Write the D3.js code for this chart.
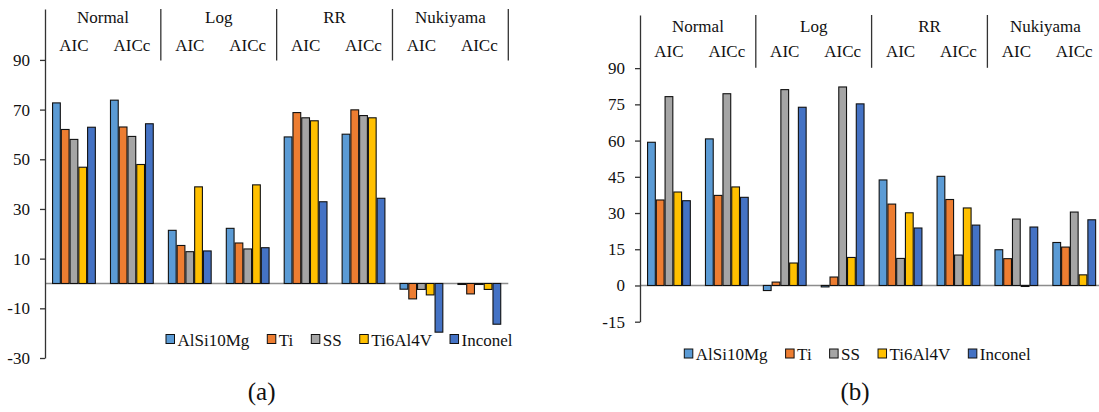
<!DOCTYPE html>
<html>
<head>
<meta charset="utf-8">
<script src="https://cdn.jsdelivr.net/npm/d3@7"></script>
<style>
    body { margin: 0; background: #fff; }
</style>
</head>
<body>
<svg id="chart" width="1099" height="412" font-family="Liberation Serif"></svg>
<script>
// categories
const materials = ["AlSi10Mg", "Ti", "SS", "Ti6Al4V", "Inconel"];
const models = ["Normal", "Log", "RR", "Nukiyama"];
const criteria = ["AIC", "AICc"];

// panel (a) values, one entry per model/criterion pair
const aAlSi10Mg = [72.7, 73.8, 21.4, 22.2, 59.0, 60.1, -2.3, -0.3];
const aTi       = [62.0, 63.0, 15.3, 16.3, 68.8, 69.9, -6.2, -4.2];
const aSS       = [58.0, 59.2, 12.8, 13.9, 66.7, 67.6, -2.4, -0.3];
const aTi6Al4V  = [46.8, 47.9, 38.9, 39.7, 65.5, 66.7, -4.6, -2.4];
const aInconel  = [62.9, 64.3, 13.1, 14.4, 32.9, 34.3, -19.6, -16.4];
const aTicks = [-30, -10, 10, 30, 50, 70, 90];

// panel (b) values
const bAlSi10Mg = [59.3, 60.7, -2.1, -0.6, 43.7, 45.2, 14.8, 17.8];
const bTi       = [35.4, 37.3, 1.4, 3.5, 33.7, 35.6, 11.1, 15.9];
const bSS       = [78.2, 79.4, 81.1, 82.2, 11.2, 12.6, 27.5, 30.4];
const bTi6Al4V  = [38.7, 40.8, 9.3, 11.6, 30.1, 32.1, -0.3, 4.4];
const bInconel  = [35.1, 36.5, 73.8, 75.2, 23.8, 25.0, 24.2, 27.2];
const bTicks = [-15, 0, 15, 30, 45, 60, 75, 90];

const palette = ["#5b9bd5", "#ed7d31", "#a5a5a5", "#ffc000", "#4472c4"];
const serif = "Liberation Serif";
const ink = "#111";

const svg = d3.select("#chart");

function drawPanel(series, ticks, cfg) {
    const cats = [];
    models.forEach(m => criteria.forEach(c => cats.push(m + "|" + c)));

    const x0 = d3.scaleBand().domain(cats).range([cfg.left, cfg.right])
        .paddingInner(0.244).paddingOuter(0.122);
    const x1 = d3.scaleBand().domain(materials).range([0, x0.bandwidth()]);
    const y = d3.scaleLinear().domain(cfg.yDomain).range([cfg.bottom, cfg.top]);

    const g = svg.append("g");

    // zero line
    g.append("line")
        .attr("x1", cfg.left).attr("x2", cfg.right)
        .attr("y1", y(0)).attr("y2", y(0))
        .attr("stroke", "#8c8c8c").attr("stroke-width", 1.5);

    // bars
    const bars = g.append("g");
    materials.forEach((mat, mi) => {
        bars.append("g").selectAll("rect").data(series[mi]).enter().append("rect")
            .attr("x", (d, i) => x0(cats[i]) + x1(mat) + 0.5)
            .attr("width", x1.bandwidth() - 1)
            .attr("y", d => y(Math.max(0, d)))
            .attr("height", d => Math.max(1, Math.abs(y(d) - y(0))))
            .attr("fill", palette[mi])
            .attr("stroke", "#111")
            .attr("stroke-width", 1.1);
    });

    // y axis
    const axis = g.append("g")
        .attr("transform", `translate(${cfg.left},0)`)
        .call(d3.axisLeft(y).tickValues(ticks).tickFormat(d => String(d))
            .tickSize(5).tickSizeOuter(0).tickPadding(10));
    axis.attr("font-family", serif).attr("font-size", 17);
    axis.select(".domain").attr("stroke", "#333").attr("stroke-width", 1.3);
    axis.selectAll(".tick line").attr("stroke", "#333").attr("stroke-width", 1.3);
    axis.selectAll(".tick text").attr("fill", ink);

    // header table
    const step = x0.step();
    models.forEach((m, k) => {
        const sx = cfg.left + (k + 1) * 2 * step;
        g.append("line")
            .attr("x1", sx).attr("x2", sx)
            .attr("y1", cfg.top).attr("y2", cfg.headBottom)
            .attr("stroke", "#333").attr("stroke-width", 1.3);
        g.append("text")
            .attr("x", cfg.left + (k * 2 + 1) * step)
            .attr("y", cfg.headY1)
            .attr("text-anchor", "middle")
            .attr("font-family", serif).attr("font-size", 17).attr("fill", ink)
            .text(m);
    });
    cats.forEach(c => {
        g.append("text")
            .attr("x", x0(c) + x0.bandwidth() / 2)
            .attr("y", cfg.headY2)
            .attr("text-anchor", "middle")
            .attr("font-family", serif).attr("font-size", 17).attr("fill", ink)
            .text(c.split("|")[1]);
    });

    // legend
    const leg = g.append("g").attr("transform", `translate(${cfg.legX},${cfg.legY})`);
    let lx = 0;
    materials.forEach((mat, mi) => {
        leg.append("rect")
            .attr("x", lx).attr("y", -5).attr("width", 8.5).attr("height", 9)
            .attr("fill", palette[mi]).attr("stroke", "#111").attr("stroke-width", 1);
        const t = leg.append("text")
            .attr("x", lx + 11.5).attr("y", 6)
            .attr("font-family", serif).attr("font-size", 17).attr("fill", ink)
            .text(mat);
        lx += 11.5 + t.node().getComputedTextLength() + 18;
    });

    // panel label
    g.append("text")
        .attr("x", cfg.labelX).attr("y", cfg.labelY)
        .attr("text-anchor", "middle")
        .attr("font-family", serif).attr("font-size", 25).attr("fill", ink)
        .text(cfg.label);
}

drawPanel([aAlSi10Mg, aTi, aSS, aTi6Al4V, aInconel], aTicks, {
    left: 45, right: 508.3, top: 9, bottom: 358, yDomain: [-30, 110.5],
    headBottom: 60.5, headY1: 23, headY2: 50.6,
    legX: 166, legY: 339.5, label: "(a)", labelX: 261.6, labelY: 400
});

drawPanel([bAlSi10Mg, bTi, bSS, bTi6Al4V, bInconel], bTicks, {
    left: 640, right: 1103.2, top: 15, bottom: 321.7, yDomain: [-15, 112],
    headBottom: 67.8, headY1: 31.5, headY2: 57.3,
    legX: 684.3, legY: 354, label: "(b)", labelX: 855, labelY: 400
});
</script>
</body>
</html>
